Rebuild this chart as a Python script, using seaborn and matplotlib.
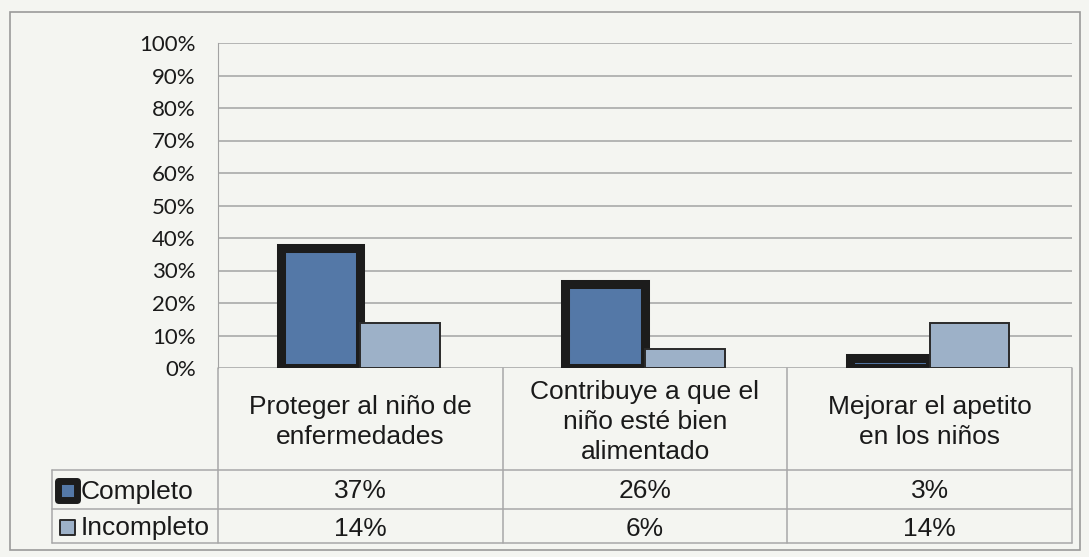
import numpy as np
import pandas as pd
import matplotlib
matplotlib.use("Agg")
import matplotlib.pyplot as plt
import matplotlib.patches as mpatches
import seaborn as sns

# datos
categorias = ["Proteger al niño de\nenfermedades",
              "Contribuye a que el\nniño esté bien\nalimentado",
              "Mejorar el apetito\nen los niños"]
series = ["Completo", "Incompleto"]
completo = [37, 26, 3]
incompleto = [14, 6, 14]
yticks = [0, 10, 20, 30, 40, 50, 60, 70, 80, 90, 100]

colores = {"Completo": "#5478a7", "Incompleto": "#9db1c8"}
bordes = {"Completo": "#1c1c1c", "Incompleto": "#2a2a2a"}
bg = "#f4f5f1"

df = pd.DataFrame({
    "cat": categorias * 2,
    "serie": ["Completo"] * 3 + ["Incompleto"] * 3,
    "valor": completo + incompleto,
})

sns.set_style("white")
plt.rcParams["font.family"] = ["Liberation Sans", "DejaVu Sans"]

W, H = 1089, 557
fig = plt.figure(figsize=(W / 100, H / 100), dpi=100, facecolor=bg)

def fx(px):
    return px / W

def fy(py):
    return 1 - py / H

# marco exterior
fig.patches.append(mpatches.Rectangle((fx(10), fy(550)), fx(1070), 538 / H,
                                      transform=fig.transFigure, fill=False,
                                      edgecolor="#9a9a9a", lw=1.2))

x0, x1, ytop, ybot = 218, 1072, 43, 368
ax = fig.add_axes([fx(x0), fy(ybot), fx(x1 - x0), (ybot - ytop) / H])
ax.set_facecolor(bg)

sns.barplot(data=df, x="cat", y="valor", hue="serie", order=categorias,
            hue_order=series, palette=colores, width=0.56, dodge=True,
            legend=False, ax=ax, saturation=1, zorder=3)

for cont, s in zip(ax.containers, series):
    for bar in cont:
        bar.set_edgecolor(bordes[s])
        bar.set_linewidth(6.5 if s == "Completo" else 1.4)
        bar.set_joinstyle("miter")

ax.set_xlim(-0.5, 2.5)
ax.set_ylim(0, 100)
ax.set_yticks(yticks)
ax.set_yticklabels([f"{v}%" for v in yticks], family=["Lato", "DejaVu Sans"],
                   fontsize=16, color="#1a1a1a")
ax.tick_params(axis="y", length=0, pad=16)
ax.set_xticks([])
ax.set_xlabel("")
ax.set_ylabel("")
for v in yticks:
    ax.axhline(v, color="#a3a3a3", lw=1.1, zorder=1)
for sp in ["top", "right", "bottom"]:
    ax.spines[sp].set_visible(False)
ax.spines["left"].set_color("#a3a3a3")

# tabla de datos
tx = fig.add_axes([fx(x0), fy(543), fx(x1 - x0), (543 - 368) / H])
tx.set_xlim(-0.5, 2.5)
tx.set_ylim(543, 368)
tx.axis("off")
px_unit = (x1 - x0) / 3
xl = -0.5 - (x0 - 52) / px_unit
lc = "#a8a8a8"
r1, r2, r3 = 470, 509, 543

for xv in [-0.5, 0.5, 1.5, 2.5]:
    tx.plot([xv, xv], [368, r3], color=lc, lw=1.1, clip_on=False)
tx.plot([xl, xl], [r1, r3], color=lc, lw=1.1, clip_on=False)
for yv in [r1, r2, r3]:
    tx.plot([xl, 2.5], [yv, yv], color=lc, lw=1.1, clip_on=False)

for i, c in enumerate(categorias):
    tx.text(i, 422, c, ha="center", va="center", fontsize=19,
            linespacing=1.32, color="#1a1a1a")
    tx.text(i, (r1 + r2) / 2 + 2, f"{completo[i]}%", ha="center", va="center",
            fontsize=19, color="#1a1a1a")
    tx.text(i, (r2 + r3) / 2 + 3, f"{incompleto[i]}%", ha="center", va="center",
            fontsize=19, color="#1a1a1a")

# etiquetas de serie con su clave
claves = {"Completo": (6, 19, 5.0), "Incompleto": (8, 15, 1.4)}
for s, (ya, yb) in zip(series, [(r1, r2), (r2, r3)]):
    yc = (ya + yb) / 2 + 1
    off, tam, lw = claves[s]
    tx.add_patch(mpatches.Rectangle((xl + off / px_unit, yc - tam / 2), tam / px_unit, tam,
                                    facecolor=colores[s], edgecolor=bordes[s],
                                    lw=lw, clip_on=False, joinstyle="round"))
    tx.text(xl + 29 / px_unit, yc + 1, s, ha="left", va="center", fontsize=19,
            color="#1a1a1a", clip_on=False)

fig.savefig("out.png", dpi=100, facecolor=bg)
